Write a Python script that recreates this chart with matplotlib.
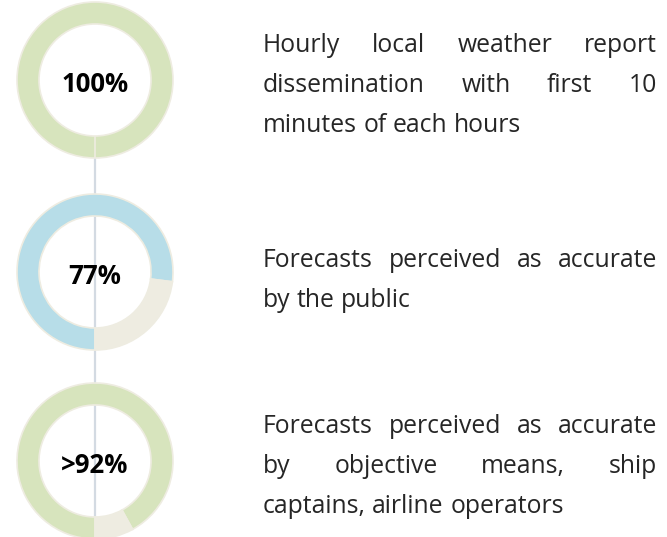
import matplotlib.pyplot as plt

# values
labels = ['100%', '77%', '>92%']
shares = [100, 77, 92]
ring_colors = ['#d7e4bd', '#b7dde8', '#d7e4bd']
rest_color = '#eeece1'

# each description already broken into lines like the reference
descriptions = [
    ['Hourly local weather report',
     'dissemination with first 10',
     'minutes of each hours'],
    ['Forecasts perceived as accurate',
     'by the public'],
    ['Forecasts perceived as accurate',
     'by objective means, ship',
     'captains, airline operators'],
]

H = 537
centers_y = [80, 272, 461]      # donut centres, pixels from top
label_base = [92, 284, 473]     # baseline of the percent labels
text_base = [52, 267, 433]      # baseline of the first description line
cx, r_out, ring_w = 95, 78, 22
line_gap = 40
text_left, text_right = 263, 657

fig = plt.figure(figsize=(6.67, 5.37), dpi=100)
ax = fig.add_axes([0, 0, 1, 1])

# connector line behind the rings
ax.plot([cx, cx], [H - 158, H - 517], color='#d3dae2', lw=1.6, zorder=0.5)

for share, col, cy, lab, lb in zip(shares, ring_colors, centers_y, labels, label_base):
    ax.pie([share, 100 - share], colors=[col, rest_color], startangle=270,
           counterclock=False, radius=r_out, center=(cx, H - cy),
           wedgeprops=dict(width=ring_w, edgecolor='#eeece1', linewidth=1.2))
    ax.text(cx, H - lb, lab, ha='center', va='baseline', fontsize=18.5,
            fontweight='bold', family='Open Sans', color='black')

ax.set_xlim(0, 667)
ax.set_ylim(0, H)
ax.axis('off')

# justified description text
renderer = fig.canvas.get_renderer()
for lines, base in zip(descriptions, text_base):
    for k, line in enumerate(lines):
        y = H - (base + k * line_gap)
        words = line.split()
        texts = [ax.text(0, y, w, ha='left', va='baseline', fontsize=17.8,
                         family='Open Sans', color='#262626') for w in words]
        widths = [t.get_window_extent(renderer).width for t in texts]
        last = k == len(lines) - 1
        if last or len(words) == 1:
            space = ax.text(0, 0, 'a a', fontsize=17.8, family='Open Sans')
            gap = space.get_window_extent(renderer).width - \
                2 * ax.text(0, 0, 'a', fontsize=17.8, family='Open Sans').get_window_extent(renderer).width
            for t in ax.texts[-2:]:
                t.remove()
        else:
            gap = (text_right - text_left - sum(widths)) / (len(words) - 1)
        x = text_left
        for t, w in zip(texts, widths):
            t.set_x(x)
            x += w + gap

fig.savefig('out.png', dpi=100)
